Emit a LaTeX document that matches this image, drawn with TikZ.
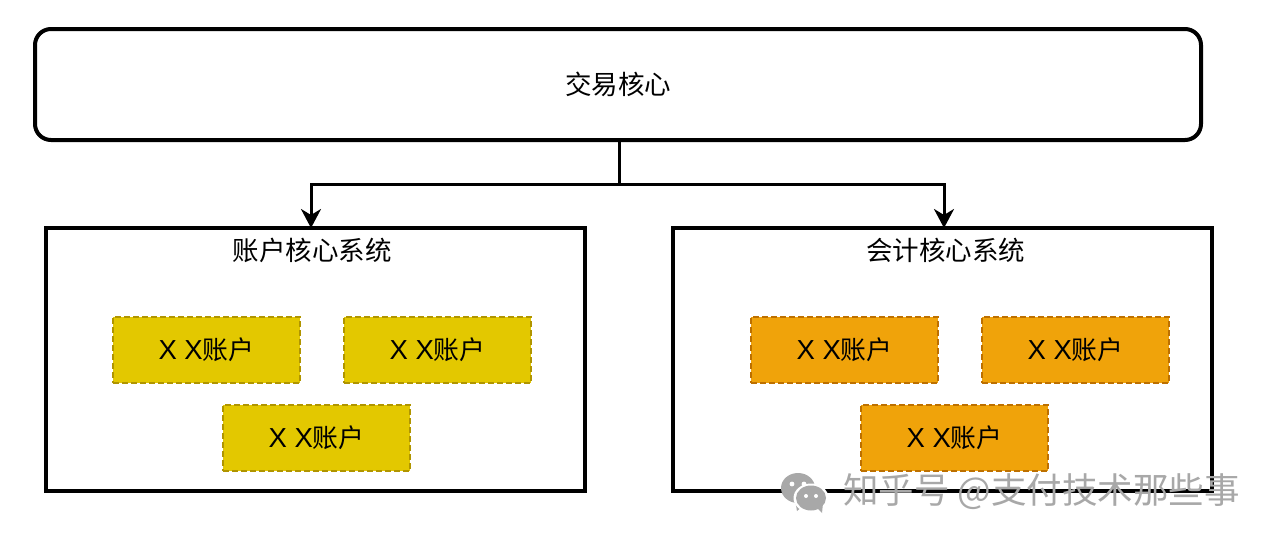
\documentclass[tikz,border=0pt]{standalone}
\usepackage{fontspec}
\setmainfont{Liberation Sans}
\newfontfamily\cjk{Noto Sans CJK SC}[Scale=1.0]
\usetikzlibrary{arrows.meta}
\definecolor{ybg}{HTML}{E3C800}
\definecolor{ybd}{HTML}{B09500}
\definecolor{obg}{HTML}{F0A30A}
\definecolor{obd}{HTML}{BD7000}
\definecolor{wm}{HTML}{A8A8A8}
\newcommand{\acct}{\fontsize{27.5}{30}\selectfont X X{\cjk\fontsize{25.8}{30}\selectfont 账户}}
\tikzset{
  core/.style={draw=black,line width=4pt,rounded corners=16pt,fill=white,anchor=north west,inner sep=0pt,outer sep=0pt,text height=20pt,text depth=0pt,font=\cjk\fontsize{26.5}{30}\selectfont},
  sysbox/.style={draw=black,line width=4pt,fill=white,anchor=north west,inner sep=0pt,outer sep=0pt,minimum width=539pt,minimum height=263pt},
  systitle/.style={font=\cjk\fontsize{26.5}{30}\selectfont,inner sep=0pt},
  acy/.style={draw=ybd,fill=ybg,line width=2.6pt,dash pattern=on 6pt off 3pt,minimum width=187pt,minimum height=66pt,inner sep=0pt},
  aco/.style={draw=obd,fill=obg,line width=2.6pt,dash pattern=on 6pt off 3pt,minimum width=187pt,minimum height=66pt,inner sep=0pt},
  conn/.style={draw=black,line width=3pt,-{Stealth[length=19pt,width=20pt,inset=6pt]}},
  wmtext/.style={font=\cjk\fontsize{35.5}{38}\selectfont,text=wm,inner sep=0pt,anchor=west}
}
\begin{document}
\begin{tikzpicture}[x=1pt,y=-1pt]
\useasboundingbox (0,0) rectangle (1270,544);
\fill[white] (0,0) rectangle (1270,544);
\node[core,minimum width=1166pt,minimum height=111pt] (tx) at (35,29) {交易核心};
\node[sysbox] (acc) at (46,228) {};
\node[sysbox] (led) at (673,228) {};
\node[systitle] (acct) at (312,250.5) {账户核心系统};
\node[systitle] (ledt) at (945.5,250.5) {会计核心系统};
\node[acy] (y1) at (206.5,350) {\acct};
\node[acy] (y2) at (437.5,350) {\acct};
\node[acy] (y3) at (316.5,438) {\acct};
\node[aco] (o1) at (844.5,350) {\acct};
\node[aco] (o2) at (1075.5,350) {\acct};
\node[aco] (o3) at (954.5,438) {\acct};
\coordinate (bus) at (619,184);
\coordinate (trunk) at (619,140);
\draw[line width=3pt] (trunk) -- (bus);
\draw[conn] (bus) -| (311,228);
\draw[conn] (bus) -| (944,228);
% watermark
\fill[wm] (798,488) ellipse (17pt and 15pt);
\fill[wm] (803,506) -- (797,511) -- (795,500) -- cycle;
\fill[white] (811,498) ellipse (17.5pt and 14.5pt);
\fill[wm] (811,498) ellipse (15pt and 12.5pt);
\fill[wm] (817,508) -- (822,513) -- (823,503) -- cycle;
\fill[white] (792,484) circle (2.4pt) (804,484) circle (2.4pt) (806,496) circle (2pt) (816,496) circle (2pt);
\node[wmtext] (wmark) at (843,491.5) {知乎号 @支付技术那些事};
\end{tikzpicture}
\end{document}
